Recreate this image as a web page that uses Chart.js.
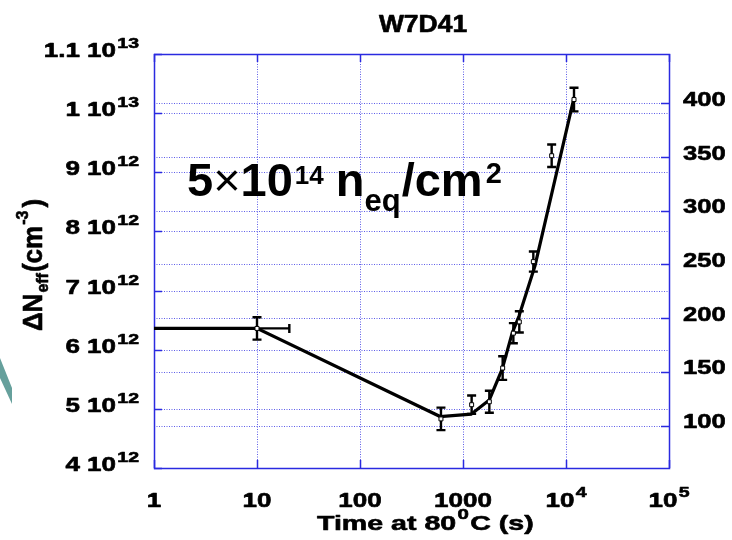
<!DOCTYPE html>
<html>
<head>
<meta charset="utf-8">
<title>W7D41</title>
<script src="https://cdn.jsdelivr.net/npm/chart.js@4.4.0/dist/chart.umd.min.js"></script>
<style>
    html, body { margin: 0; padding: 0; background: #fff; }
    #wrap { width: 732px; height: 540px; }
</style>
</head>
<body>
<div id="wrap"><canvas id="chart" width="732" height="540"></canvas></div>
<script>
    // measured points: annealing time (s) and change of Neff (cm^-3)
    const times = [10, 611, 1213, 1802, 2427, 3083, 3521, 4818, 7259, 11960];
    const neff = [6.36e12, 4.83e12, 5.07e12, 5.12e12, 5.69e12, 6.28e12, 6.47e12, 7.49e12, 9.28e12, 10.23e12];
    const neffErr = [0.19e12, 0.19e12, 0.155e12, 0.186e12, 0.2e12, 0.17e12, 0.18e12, 0.17e12, 0.19e12, 0.2e12];
    const timeHigh = [20.6, null, null, null, null, null, null, null, null, null];

    // fitted curve
    const fitTimes = [1, 10, 600, 1200, 1800, 2400, 3000, 3500, 5000, 7500, 12000];
    const fitNeff = [6.36e12, 6.36e12, 4.87e12, 4.91e12, 5.15e12, 5.67e12, 6.28e12, 6.57e12, 7.42e12, 8.74e12, 10.27e12];

    // tick values
    const xTicks = [1, 10, 100, 1000, 1e4, 1e5];
    const leftTicks = [4e12, 5e12, 6e12, 7e12, 8e12, 9e12, 1e13, 1.1e13];
    const rightTicks = [100, 150, 200, 250, 300, 350, 400];

    const FONT = '"Liberation Sans", Arial, sans-serif';
    const BLUE = '#2a2ae0';
    const GRID = 'rgba(40, 40, 225, 0.75)';

    function bold(size) { return 'bold ' + size + 'px ' + FONT; }

    // text made of pieces (superscripts, subscripts), stretched sideways like the original bitmap
    function richWidth(ctx, parts) {
        let w = 0;
        parts.forEach(p => {
            ctx.font = p.font;
            w += ctx.measureText(p.t).width + (p.gap || 0);
        });
        return w;
    }

    function drawRich(ctx, parts, x, y, align, sx, heavy) {
        const w = richWidth(ctx, parts) * sx;
        const left = align === 'right' ? x - w : (align === 'center' ? x - w / 2 : x);
        ctx.save();
        ctx.translate(left, y);
        ctx.scale(sx, 1);
        ctx.fillStyle = '#000';
        ctx.strokeStyle = '#000';
        ctx.lineWidth = heavy || 0;
        ctx.lineJoin = 'round';
        ctx.textBaseline = 'alphabetic';
        let px = 0;
        parts.forEach(p => {
            ctx.font = p.font;
            px += (p.gap || 0);
            ctx.fillText(p.t, px, p.dy || 0);
            if (heavy) ctx.strokeText(p.t, px, p.dy || 0);
            px += ctx.measureText(p.t).width;
        });
        ctx.restore();
    }

    const gridPlugin = {
        id: 'gridFrame',
        beforeDatasetsDraw(chart) {
            const { ctx, chartArea: a, scales } = chart;
            const x = scales.x, y = scales.y, y2 = scales.y2;
            ctx.save();
            ctx.lineWidth = 1;
            ctx.strokeStyle = GRID;
            ctx.setLineDash([1, 1.5]);
            xTicks.slice(1, -1).forEach(v => {
                const px = Math.round(x.getPixelForValue(v)) + 0.5;
                ctx.beginPath(); ctx.moveTo(px, a.top); ctx.lineTo(px, a.bottom); ctx.stroke();
            });
            leftTicks.slice(1, -1).forEach(v => {
                const py = Math.round(y.getPixelForValue(v)) + 0.5;
                ctx.beginPath(); ctx.moveTo(a.left, py); ctx.lineTo(a.right, py); ctx.stroke();
            });
            rightTicks.forEach(v => {
                const py = Math.round(y2.getPixelForValue(v)) + 0.5;
                ctx.beginPath(); ctx.moveTo(a.left, py); ctx.lineTo(a.right, py); ctx.stroke();
            });
            ctx.setLineDash([]);
            ctx.strokeStyle = BLUE;
            ctx.lineWidth = 1.5;
            const tl = 8;
            xTicks.forEach(v => {
                const px = Math.round(x.getPixelForValue(v)) + 0.5;
                ctx.beginPath();
                ctx.moveTo(px, a.bottom); ctx.lineTo(px, a.bottom - tl);
                ctx.moveTo(px, a.top); ctx.lineTo(px, a.top + tl);
                ctx.stroke();
            });
            leftTicks.forEach(v => {
                const py = Math.round(y.getPixelForValue(v)) + 0.5;
                ctx.beginPath(); ctx.moveTo(a.left, py); ctx.lineTo(a.left + tl, py); ctx.stroke();
            });
            rightTicks.forEach(v => {
                const py = Math.round(y2.getPixelForValue(v)) + 0.5;
                ctx.beginPath(); ctx.moveTo(a.right, py); ctx.lineTo(a.right - tl, py); ctx.stroke();
            });
            ctx.strokeRect(Math.round(a.left) + 0.5, Math.round(a.top) + 0.5,
                Math.round(a.right - a.left), Math.round(a.bottom - a.top));
            ctx.restore();
        }
    };

    const errorBarPlugin = {
        id: 'errorBars',
        afterDatasetDraw(chart, args) {
            if (args.index !== 1) return; // after the fit line, before the markers
            const { ctx, scales } = chart;
            const x = scales.x, y = scales.y;
            const cap = 4.5;
            ctx.save();
            ctx.strokeStyle = '#000';
            ctx.lineWidth = 2.4;
            times.forEach((t, i) => {
                const px = x.getPixelForValue(t);
                const top = y.getPixelForValue(neff[i] + neffErr[i]);
                const bot = y.getPixelForValue(neff[i] - neffErr[i]);
                ctx.beginPath();
                ctx.moveTo(px, top); ctx.lineTo(px, bot);
                ctx.moveTo(px - cap, top); ctx.lineTo(px + cap, top);
                ctx.moveTo(px - cap, bot); ctx.lineTo(px + cap, bot);
                ctx.stroke();
                if (timeHigh[i]) {
                    const py = y.getPixelForValue(neff[i]);
                    const hx = x.getPixelForValue(timeHigh[i]);
                    ctx.beginPath();
                    ctx.moveTo(px, py); ctx.lineTo(hx, py);
                    ctx.moveTo(hx, py - cap); ctx.lineTo(hx, py + cap);
                    ctx.stroke();
                }
            });
            ctx.restore();
        }
    };

    const textPlugin = {
        id: 'texts',
        afterDraw(chart) {
            const { ctx, scales } = chart;
            const x = scales.x, y = scales.y, y2 = scales.y2;
            const sx = 1.3;
            const hv = 0.6;

            // slide decoration at the left edge
            ctx.save();
            ctx.fillStyle = '#66a09c';
            ctx.beginPath();
            ctx.moveTo(0, 358); ctx.lineTo(12, 388); ctx.lineTo(12, 404); ctx.lineTo(0, 378);
            ctx.closePath(); ctx.fill();
            ctx.restore();

            // title
            drawRich(ctx, [{ t: 'W7D41', font: bold(23) }], 423, 32, 'center', 1.15, hv);

            // left ticks: "a 10^n"
            leftTicks.forEach(v => {
                const e = Math.floor(Math.log10(v) + 1e-9);
                const m = Math.round(v / Math.pow(10, e) * 10) / 10;
                drawRich(ctx, [
                    { t: m + ' 10', font: bold(20) },
                    { t: String(e), font: bold(15), dy: -9, gap: 1 }
                ], 139, y.getPixelForValue(v) + 3, 'right', sx, hv);
            });

            // right ticks
            rightTicks.forEach(v => {
                drawRich(ctx, [{ t: String(v), font: bold(20) }], 683, y2.getPixelForValue(v) + 2.5, 'left', 1.28, hv);
            });

            // x ticks
            xTicks.forEach(v => {
                const e = Math.round(Math.log10(v));
                const parts = e < 4
                    ? [{ t: String(v), font: bold(20) }]
                    : [{ t: '10', font: bold(20) }, { t: String(e), font: bold(15), dy: -10, gap: 1 }];
                drawRich(ctx, parts, x.getPixelForValue(v), 507, 'center', sx, hv);
            });

            // x title
            drawRich(ctx, [
                { t: 'Time at 80', font: bold(21) },
                { t: '0', font: bold(15), dy: -11, gap: 1 },
                { t: 'C (s)', font: bold(21), gap: 1 }
            ], 317, 530, 'left', 1.36, hv);

            // y title, rotated
            ctx.save();
            ctx.translate(42, 265);
            ctx.rotate(-Math.PI / 2);
            ctx.scale(1, 1.05);
            drawRich(ctx, [
                { t: '\u0394N', font: bold(26) },
                { t: 'eff', font: bold(16), dy: 6, gap: 1 },
                { t: '(cm', font: bold(26), gap: 1 },
                { t: '-3', font: bold(16), dy: -13, gap: 1 },
                { t: ')', font: bold(26), gap: 3 }
            ], 0, 0, 'center', 1, hv);
            ctx.restore();

            // fluence annotation
            drawRich(ctx, [
                { t: '5', font: bold(47) },
                { t: '\u00d7', font: '47px ' + FONT },
                { t: '10', font: bold(47) },
                { t: '14', font: bold(26), dy: -12, gap: 2 },
                { t: 'n', font: bold(47), gap: 12 },
                { t: 'eq', font: bold(31), dy: 15 },
                { t: '/cm', font: bold(47), gap: 1 },
                { t: '2', font: bold(29), dy: -13, gap: 3 }
            ], 187, 196, 'left', 1, 0);
        }
    };

    const ctx = document.getElementById('chart').getContext('2d');
    new Chart(ctx, {
        type: 'scatter',
        data: {
            datasets: [
                {
                    label: 'W7D41',
                    data: times.map((t, i) => ({ x: t, y: neff[i] })),
                    pointStyle: 'rect',
                    pointRadius: 2.8,
                    borderColor: '#000',
                    borderWidth: 1,
                    backgroundColor: '#fff'
                },
                {
                    label: 'fit',
                    data: fitTimes.map((t, i) => ({ x: t, y: fitNeff[i] })),
                    showLine: true,
                    borderColor: '#000',
                    borderWidth: 3.2,
                    pointRadius: 0,
                    tension: 0
                }
            ]
        },
        options: {
            responsive: false,
            animation: false,
            devicePixelRatio: 1,
            layout: { padding: { top: 54, left: 0, right: 0, bottom: 0 } },
            plugins: {
                legend: { display: false },
                tooltip: { enabled: false },
                title: { display: false }
            },
            scales: {
                x: {
                    type: 'logarithmic', min: 1, max: 1e5,
                    ticks: { display: false }, grid: { display: false }, border: { display: false },
                    afterFit: s => { s.height = 72; }
                },
                y: {
                    min: 4e12, max: 1.1e13,
                    ticks: { display: false }, grid: { display: false }, border: { display: false },
                    afterFit: s => { s.width = 154; }
                },
                y2: {
                    position: 'right', min: 60.6, max: 445.9,
                    ticks: { display: false }, grid: { display: false }, border: { display: false },
                    afterFit: s => { s.width = 63; }
                }
            }
        },
        plugins: [gridPlugin, errorBarPlugin, textPlugin]
    });
</script>
</body>
</html>
